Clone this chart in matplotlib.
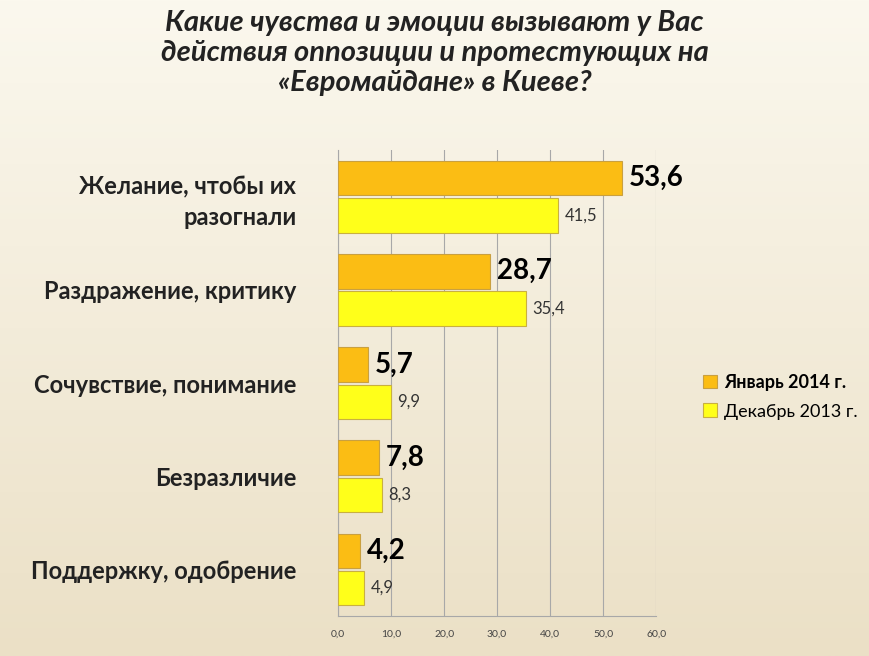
import matplotlib
matplotlib.use("Agg")
import matplotlib.pyplot as plt
import numpy as np
from matplotlib.colors import LinearSegmentedColormap

categories = ["Желание, чтобы их\nразогнали", "Раздражение, критику", "Сочувствие, понимание", "Безразличие", "Поддержку, одобрение"]
jan2014 = [53.6, 28.7, 5.7, 7.8, 4.2]
dec2013 = [41.5, 35.4, 9.9, 8.3, 4.9]
xticks = [0, 10, 20, 30, 40, 50, 60]
title = "Какие чувства и эмоции вызывают у Вас\nдействия оппозиции и протестующих на\n«Евромайдане» в Киеве?"

plt.rcParams["font.family"] = ["Lato", "DejaVu Sans"]
fig = plt.figure(figsize=(8.69, 6.56), dpi=100)
bg = fig.add_axes([0, 0, 1, 1], zorder=-10)
grad = np.linspace(0, 1, 256).reshape(-1, 1)
cm = LinearSegmentedColormap.from_list("bg", ["#fbf8ee", "#ebe0c6"])
bg.imshow(grad, aspect="auto", cmap=cm, extent=[0, 1, 0, 1], origin="upper")
bg.axis("off")

ax = fig.add_axes([0.389, 0.061, 0.366, 0.71])
ax.set_facecolor("none")
y = np.arange(len(categories))
h = 0.37
ax.barh(y - 0.2, jan2014, height=h, color="#fbbd14", edgecolor="#c9a040", linewidth=0.8, label="Январь 2014 г.", zorder=3)
ax.barh(y + 0.2, dec2013, height=h, color="#ffff1a", edgecolor="#c9b040", linewidth=0.8, label="Декабрь 2013 г.", zorder=3)
for yi, v in zip(y, jan2014):
    ax.text(v + 1.2, yi - 0.2, f"{v:.1f}".replace(".", ","), va="center", ha="left", fontsize=20, fontweight="bold")
for yi, v in zip(y, dec2013):
    ax.text(v + 1.2, yi + 0.2, f"{v:.1f}".replace(".", ","), va="center", ha="left", fontsize=12, color="#333333")
ax.set_ylim(len(categories) - 0.5, -0.5)
ax.set_xlim(0, 60)
ax.set_xticks(xticks)
ax.set_xticklabels([f"{t:.1f}".replace(".", ",") for t in xticks], fontsize=7.5, color="#444444")
ax.tick_params(axis="x", length=0, pad=10)
ax.set_yticks(y)
ax.set_yticklabels(categories, fontsize=17, fontweight="bold", color="#222222", linespacing=1.4)
ax.tick_params(axis="y", length=0, pad=30)
ax.grid(axis="x", color="#a8a8a8", linewidth=0.8, zorder=0)
for s in ["top", "right"]:
    ax.spines[s].set_visible(False)
ax.spines["left"].set_color("#a8a8a8")
ax.spines["bottom"].set_color("#a8a8a8")

fig.legend(loc="upper left", bbox_to_anchor=(0.79, 0.455), frameon=False, fontsize=13,
           handlelength=0.8, handleheight=0.8, handletextpad=0.4, labelspacing=0.7)
leg = fig.legends[0]
leg.get_texts()[0].set_fontweight("bold")

fig.text(0.5, 0.985, title, ha="center", va="top", fontsize=21, fontweight="bold", style="italic", color="#222222", linespacing=1.2)
fig.savefig("out.png", dpi=100)
